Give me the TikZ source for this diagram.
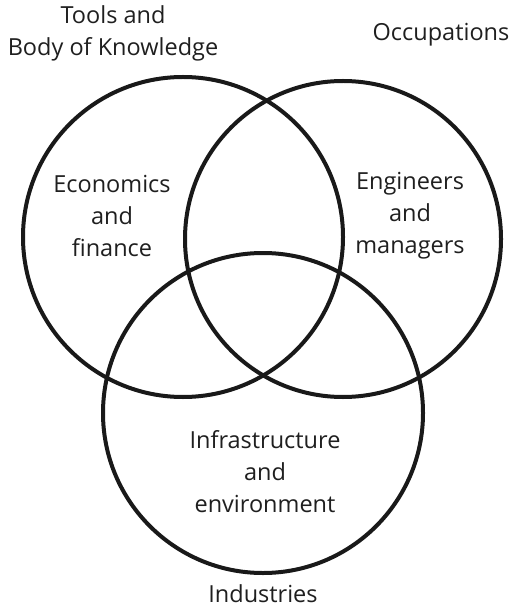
\documentclass[tikz,border=0pt]{standalone}
\usepackage{fontspec}
\setmainfont{Open Sans}
\begin{document}
\begin{tikzpicture}[x=1pt,y=-1pt,
  ring/.style={draw=black!90,line width=4pt},
  lbl/.style={align=center,font=\fontsize{23.5}{32}\selectfont,text=black!88,inner sep=0pt}]
\useasboundingbox (0,0) rectangle (519,609);
\node[ring,circle,minimum size=320pt,inner sep=0pt] (L) at (183,237) {};
\node[ring,circle,minimum size=316pt,inner sep=0pt] (R) at (343,239) {};
\node[ring,circle,minimum size=320pt,inner sep=0pt] (B) at (263,413) {};
\node[lbl] (tl) at (113,33) {Tools and\\Body of Knowledge};
\node[lbl] (tr) at (441,35) {Occupations};
\node[lbl] (l) at (112,216) {Economics\\and\\finance};
\node[lbl] (r) at (410,216) {Engineers\\and\\managers};
\node[lbl] (b) at (265,472) {Infrastructure\\and\\environment};
\node[lbl] (bb) at (263,594) {Industries};
\end{tikzpicture}
\end{document}
